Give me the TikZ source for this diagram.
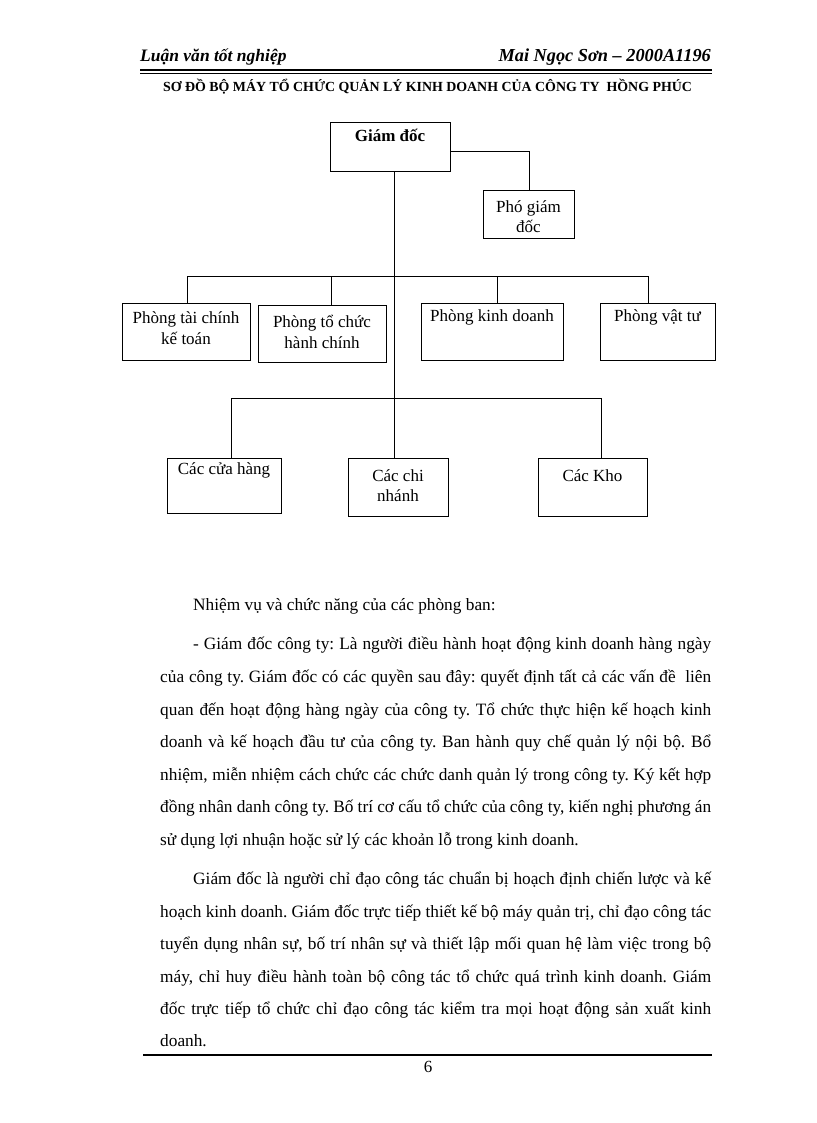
\documentclass[tikz,border=0pt]{standalone}
\usepackage{fontspec}
\setmainfont{Liberation Serif}
\frenchspacing
\begin{document}
\begin{tikzpicture}[x=1pt,y=-1pt,
  box/.style={draw, line width=1.4pt, inner sep=0pt, anchor=north west},
  lbl/.style={inner sep=0pt, align=center, font=\fontsize{17}{20.5}\selectfont},
  conn/.style={line width=1pt},
  body/.style={inner sep=0pt, anchor=base west, font=\fontsize{17.3}{20}\selectfont},
  head/.style={inner sep=0pt}
]
\path[use as bounding box, fill=white] (0,0) rectangle (816,1123);

% header
\node[head, anchor=base west, font=\fontsize{17.5}{19}\selectfont\bfseries\itshape] (hl) at (140,62) {Luận văn tốt nghiệp};
\node[head, anchor=base east, font=\fontsize{18.3}{19}\selectfont\bfseries\itshape] (hr) at (711,62) {Mai Ngọc Sơn – 2000A1196};
\draw[line width=2.2pt] (140,69.8) -- (712,69.8);
\draw[line width=0.9pt] (140,73.2) -- (712,73.2);
\node[inner sep=0pt, anchor=base, font=\fontsize{13.9}{16}\selectfont\bfseries] (title) at (427.5,91.6)
  {SƠ ĐỒ BỘ MÁY TỔ CHỨC QUẢN LÝ KINH DOANH CỦA CÔNG TY\ \ HỒNG PHÚC};

% chart boxes
\node[box, minimum width=120, minimum height=49] (gd) at (330,122) {};
\node[box, minimum width=91, minimum height=48] (pgd) at (483,190) {};
\node[box, minimum width=128, minimum height=57] (tc) at (122,303) {};
\node[box, minimum width=128, minimum height=57] (tchc) at (258,305) {};
\node[box, minimum width=142, minimum height=57] (kd) at (421,303) {};
\node[box, minimum width=115, minimum height=57] (vt) at (600,303) {};
\node[box, minimum width=114, minimum height=55] (ch) at (167,458) {};
\node[box, minimum width=100, minimum height=58] (cn) at (348,458) {};
\node[box, minimum width=109, minimum height=58] (kho) at (538,458) {};

% labels
\node[lbl, font=\fontsize{17}{20.5}\selectfont\bfseries] (gdt) at (390,135) {Giám đốc};
\node[lbl] (pgdt) at (528.5,216.5) {Phó giám\\đốc};
\node[lbl] (tct) at (186,328) {Phòng tài chính\\kế toán};
\node[lbl] (tchct) at (322,332) {Phòng tổ chức\\hành chính};
\node[lbl] (kdt) at (492,317) {Phòng kinh doanh};
\node[lbl] (vtt) at (657.5,317) {Phòng vật tư};
\node[lbl] (cht) at (224,470.5) {Các cửa hàng};
\node[lbl] (cnt) at (398,485.5) {Các chi\\nhánh};
\node[lbl] (khot) at (592.5,475.5) {Các Kho};

% connectors
\coordinate (gdR) at (450,152);
\coordinate (b1) at (394,276);
\coordinate (b2) at (394,398);
\draw[conn] (gdR) -| (pgd.north);
\draw[conn] (gd.south -| b1) -- (cn.north -| b1);
\draw[conn] ([xshift=1pt]tc.north) -- ++(0,-27) -| ([xshift=-9.5pt]vt.north);
\draw[conn] ([xshift=9pt]tchc.north) -- ([xshift=9pt]tchc.north |- b1);
\draw[conn] ([xshift=5pt]kd.north) -- ([xshift=5pt]kd.north |- b1);
\draw[conn] ([xshift=7pt]ch.north) -- ++(0,-60) -| ([xshift=8.5pt]kho.north);

% body text
\node[body] (l0) at (193,610) {Nhiệm vụ và chức năng của các phòng ban:};
\node[body] (l1) at (193,649) {\makebox[518pt][s]{- Giám đốc công ty: Là người điều hành hoạt động kinh doanh hàng ngày}};
\node[body] (l2) at (160,682) {\makebox[551pt][s]{của công ty. Giám đốc có các quyền sau đây: quyết định tất cả các vấn đề\ \ liên}};
\node[body] (l3) at (160,715) {\makebox[551pt][s]{quan đến hoạt động hàng ngày của công ty. Tổ chức thực hiện kế hoạch kinh}};
\node[body] (l4) at (160,747) {\makebox[551pt][s]{doanh và kế hoạch đầu tư của công ty. Ban hành quy chế quản lý nội bộ. Bổ}};
\node[body] (l5) at (160,780) {\makebox[551pt][s]{nhiệm, miễn nhiệm cách chức các chức danh quản lý trong công ty. Ký kết hợp}};
\node[body] (l6) at (160,812) {\makebox[551pt][s]{đồng nhân danh công ty. Bố trí cơ cấu tổ chức của công ty, kiến nghị phương án}};
\node[body] (l7) at (160,845) {sử dụng lợi nhuận hoặc sử lý các khoản lỗ trong kinh doanh.};
\node[body] (l8) at (193,884) {\makebox[518pt][s]{Giám đốc là người chỉ đạo công tác chuẩn bị hoạch định chiến lược và kế}};
\node[body] (l9) at (160,917) {\makebox[551pt][s]{hoạch kinh doanh. Giám đốc trực tiếp thiết kế bộ máy quản trị, chỉ đạo công tác}};
\node[body] (l10) at (160,949) {\makebox[551pt][s]{tuyển dụng nhân sự, bố trí nhân sự và thiết lập mối quan hệ làm việc trong bộ}};
\node[body] (l11) at (160,982) {\makebox[551pt][s]{máy, chỉ huy điều hành toàn bộ công tác tổ chức quá trình kinh doanh. Giám}};
\node[body] (l12) at (160,1014) {\makebox[551pt][s]{đốc trực tiếp tổ chức chỉ đạo công tác kiểm tra mọi hoạt động sản xuất kinh}};
\node[body] (l13) at (160,1046) {doanh.};

% footer
\draw[line width=2.6pt] (143,1055) -- (712,1055);
\node[inner sep=0pt, font=\fontsize{17}{20}\selectfont] (pg) at (428,1067) {6};
\end{tikzpicture}
\end{document}
